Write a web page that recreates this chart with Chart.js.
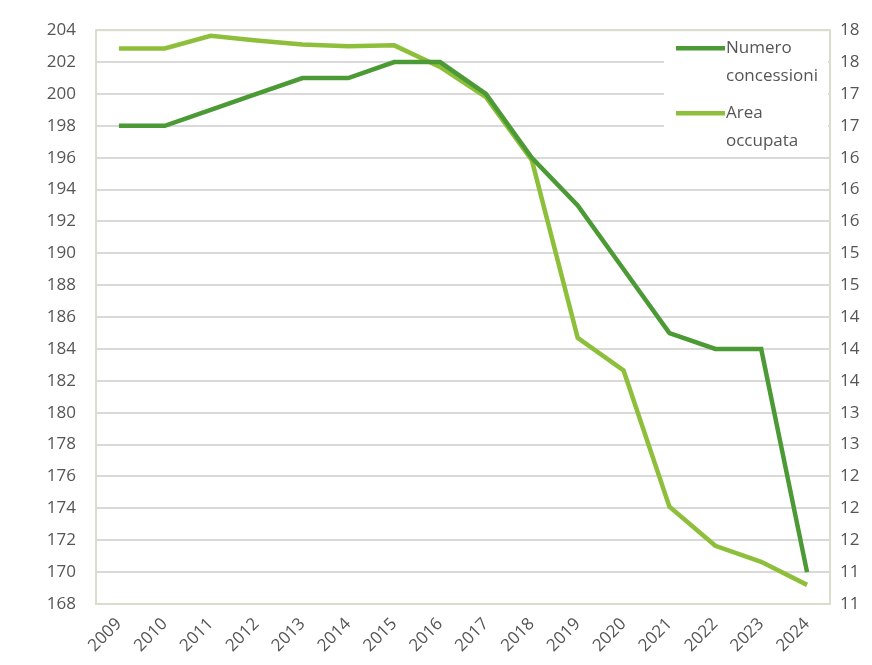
<!DOCTYPE html>
<html>
<head>
<meta charset="utf-8">
<script src="https://cdn.jsdelivr.net/npm/chart.js@4"></script>
<style>
  html, body { margin: 0; padding: 0; background: #fff; }
  #wrap { width: 872px; height: 665px; }
</style>
</head>
<body>
<div id="wrap"><canvas id="lineChart" width="872" height="665"></canvas></div>
<script>
const years = ['2009', '2010', '2011', '2012', '2013', '2014', '2015', '2016',
               '2017', '2018', '2019', '2020', '2021', '2022', '2023', '2024'];
const numeroConcessioni = [198, 198, 199, 200, 201, 201, 202, 202, 200, 196, 193, 189, 185, 184, 184, 170];
const areaOccupata = [17.77, 17.77, 17.93, 17.87, 17.82, 17.80, 17.81, 17.54, 17.16, 16.37, 14.14, 13.73, 12.02, 11.53, 11.33, 11.04];
const seriesNames = [['Numero', 'concessioni'], ['Area', 'occupata']];

const darkGreen = '#4b9a35';
const lightGreen = '#8dbf3a';
const labelColor = '#555555';
const font = { family: '"Open Sans", "Noto Sans", sans-serif', size: 17 };

// legend drawn inside the plot area, top right, on a white box
const insideLegend = {
    id: 'insideLegend',
    beforeDatasetsDraw(chart) {
        const ctx = chart.ctx;
        const area = chart.chartArea;
        const x0 = area.right - 166;
        ctx.save();
        ctx.fillStyle = '#fff';
        ctx.fillRect(x0, area.top + 2, 164, 122);
        ctx.font = font.size + 'px ' + font.family;
        ctx.textBaseline = 'middle';
        ctx.fillStyle = labelColor;
        const colors = [darkGreen, lightGreen];
        seriesNames.forEach((lines, i) => {
            const y = area.top + 18 + i * 65;
            ctx.strokeStyle = colors[i];
            ctx.lineWidth = 4.5;
            ctx.beginPath();
            ctx.moveTo(x0 + 12, y);
            ctx.lineTo(x0 + 61, y);
            ctx.stroke();
            lines.forEach((t, j) => ctx.fillText(t, x0 + 62, y + j * 28));
        });
        ctx.restore();
    },
    afterDraw(chart) {
        const ctx = chart.ctx;
        const a = chart.chartArea;
        ctx.save();
        ctx.strokeStyle = '#dcdccb';
        ctx.lineWidth = 2;
        ctx.strokeRect(a.left, a.top, a.right - a.left, a.bottom - a.top);
        ctx.restore();
    }
};

new Chart(document.getElementById('lineChart').getContext('2d'), {
    type: 'line',
    data: {
        labels: years,
        datasets: [{
            label: 'Numero concessioni',
            data: numeroConcessioni,
            borderColor: darkGreen,
            backgroundColor: darkGreen,
            borderWidth: 4.5,
            pointRadius: 0,
            tension: 0,
            yAxisID: 'y'
        }, {
            label: 'Area occupata',
            data: areaOccupata,
            borderColor: lightGreen,
            backgroundColor: lightGreen,
            borderWidth: 4.5,
            pointRadius: 0,
            tension: 0,
            yAxisID: 'y1'
        }]
    },
    options: {
        responsive: false,
        animation: false,
        layout: { padding: { top: 30, right: 0, bottom: 0, left: 0 } },
        plugins: {
            legend: { display: false },
            tooltip: { enabled: false }
        },
        scales: {
            x: {
                offset: true,
                grid: { display: false, drawTicks: false },
                border: { display: false },
                ticks: { color: labelColor, font: font, minRotation: 45, maxRotation: 45, padding: 10 },
                afterFit(scale) { scale.height = 61; }
            },
            y: {
                position: 'left',
                min: 168,
                max: 204,
                grid: { color: '#d9d9d9', lineWidth: 2, drawTicks: false },
                border: { display: false },
                ticks: { stepSize: 2, color: labelColor, font: font, padding: 20 },
                afterFit(scale) { scale.width = 96; }
            },
            y1: {
                position: 'right',
                min: 10.8,
                max: 18,
                grid: { display: false, drawTicks: false },
                border: { display: false },
                ticks: {
                    stepSize: 0.4,
                    color: labelColor,
                    font: font,
                    padding: 10,
                    callback: (v) => Math.round(v)
                },
                afterFit(scale) { scale.width = 42; }
            }
        }
    },
    plugins: [insideLegend]
});
</script>
</body>
</html>
